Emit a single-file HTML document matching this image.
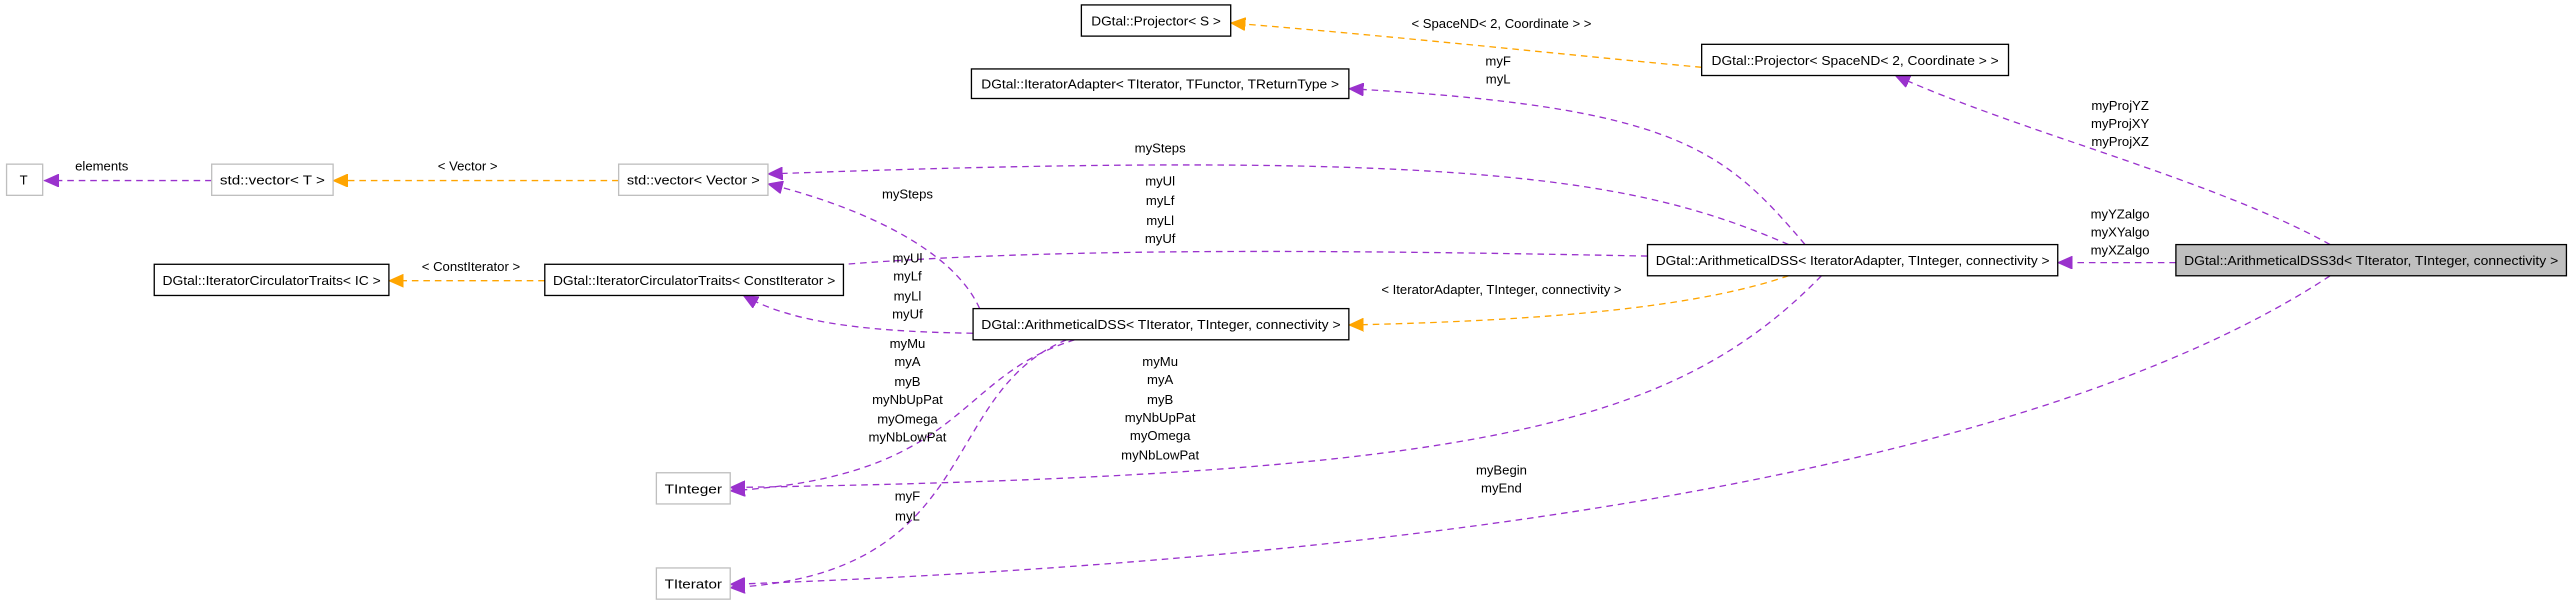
<!DOCTYPE html>
<html><head><meta charset="utf-8"><style>
html,body{margin:0;padding:0;background:#fff;}
svg{display:block;}
text{font-family:"Liberation Sans",Arial,sans-serif;font-size:8px;fill:#000;}
.n text{text-anchor:start;}
.l{text-anchor:middle;}
.p{fill:none;stroke:#9a32cd;stroke-width:0.8;stroke-dasharray:4,3;}
.o{fill:none;stroke:#ffa500;stroke-width:0.8;stroke-dasharray:4,3;}
.ap{fill:#9a32cd;stroke:#9a32cd;stroke-width:0.5;}
.ao{fill:#ffa500;stroke:#ffa500;stroke-width:0.5;}
.bk{fill:#fff;stroke:#000;stroke-width:0.8;}
.gr{fill:#fff;stroke:#bfbfbf;stroke-width:0.8;}
</style></head><body>
<svg width="2573" height="609" viewBox="0 0 1568 371" preserveAspectRatio="none" xmlns="http://www.w3.org/2000/svg">
<defs>
<marker id="mp" markerWidth="10" markerHeight="8" refX="9" refY="4" orient="auto" markerUnits="userSpaceOnUse"><path d="M0,0 L9,4 L0,8 z" class="ap"/></marker>
<marker id="mo" markerWidth="10" markerHeight="8" refX="9" refY="4" orient="auto" markerUnits="userSpaceOnUse"><path d="M0,0 L9,4 L0,8 z" class="ao"/></marker>
</defs>

<!-- edges -->
<path class="p" marker-end="url(#mp)" d="M129,110 L27,110"/>
<text class="l" x="62" y="104">elements</text>
<path class="o" marker-end="url(#mo)" d="M377,110 L203,110"/>
<text class="l" x="285" y="104">&lt; Vector &gt;</text>
<path class="o" marker-end="url(#mo)" d="M332,171 L237,171"/>
<text class="l" x="287" y="165">&lt; ConstIterator &gt;</text>
<path class="o" marker-end="url(#mo)" d="M1037,41 C950,33 850,22 750,14"/>
<text class="l" x="915" y="17">&lt; SpaceND&lt; 2, Coordinate &gt; &gt;</text>
<path class="o" marker-end="url(#mo)" d="M1090,168 C1040,185 960,195 822,198"/>
<text class="l" x="915" y="179">&lt; IteratorAdapter, TInteger, connectivity &gt;</text>

<path class="p" marker-end="url(#mp)" d="M1326,160 L1254,160"/>
<text class="l" x="1292" y="133">myYZalgo</text>
<text class="l" x="1292" y="144">myXYalgo</text>
<text class="l" x="1292" y="155">myXZalgo</text>
<path class="p" marker-end="url(#mp)" d="M1420,149 C1350,110 1230,80 1155,46"/>
<text class="l" x="1292" y="67">myProjYZ</text>
<text class="l" x="1292" y="78">myProjXY</text>
<text class="l" x="1292" y="89">myProjXZ</text>
<path class="p" marker-end="url(#mp)" d="M1420,168 C1250,280 900,340 445,356"/>
<text class="l" x="915" y="289">myBegin</text>
<text class="l" x="915" y="300">myEnd</text>

<path class="p" marker-end="url(#mp)" d="M1100,149 C1050,90 1020,65 822,54"/>
<text class="l" x="913" y="40">myF</text>
<text class="l" x="913" y="51">myL</text>
<path class="p" marker-end="url(#mp)" d="M1090,149 C1000,110 900,90 468,106"/>
<text class="l" x="707" y="93">mySteps</text>
<path class="p" marker-end="url(#mp)" d="M1004,156 C800,152 600,150 463,166"/>
<text class="l" x="707" y="113">myUl</text>
<text class="l" x="707" y="125">myLf</text>
<text class="l" x="707" y="137">myLl</text>
<text class="l" x="707" y="148">myUf</text>
<path class="p" marker-end="url(#mp)" d="M1110,168 C1020,260 900,290 445,297"/>
<text class="l" x="707" y="223">myMu</text>
<text class="l" x="707" y="234">myA</text>
<text class="l" x="707" y="246">myB</text>
<text class="l" x="707" y="257">myNbUpPat</text>
<text class="l" x="707" y="268">myOmega</text>
<text class="l" x="707" y="280">myNbLowPat</text>

<path class="p" marker-end="url(#mp)" d="M597,188 C580,150 520,125 468,112"/>
<text class="l" x="553" y="121">mySteps</text>
<path class="p" marker-end="url(#mp)" d="M593,203 C520,202 480,195 453,180"/>
<text class="l" x="553" y="160">myUl</text>
<text class="l" x="553" y="171">myLf</text>
<text class="l" x="553" y="183">myLl</text>
<text class="l" x="553" y="194">myUf</text>
<path class="p" marker-end="url(#mp)" d="M655,207 C580,230 590,290 445,299"/>
<text class="l" x="553" y="212">myMu</text>
<text class="l" x="553" y="223">myA</text>
<text class="l" x="553" y="235">myB</text>
<text class="l" x="553" y="246">myNbUpPat</text>
<text class="l" x="553" y="258">myOmega</text>
<text class="l" x="553" y="269">myNbLowPat</text>
<path class="p" marker-end="url(#mp)" d="M650,207 C570,240 600,350 445,358"/>
<text class="l" x="553" y="305">myF</text>
<text class="l" x="553" y="317">myL</text>

<!-- nodes -->
<g class="n">
<rect class="bk" x="659" y="3" width="91" height="19"/>
<text x="665" y="15.5" textLength="79" lengthAdjust="spacingAndGlyphs">DGtal::Projector&lt; S &gt;</text>
<rect class="bk" x="1037" y="27" width="187" height="19"/>
<text x="1043" y="39.5" textLength="175" lengthAdjust="spacingAndGlyphs">DGtal::Projector&lt; SpaceND&lt; 2, Coordinate &gt; &gt;</text>
<rect class="bk" x="592" y="42" width="230" height="18"/>
<text x="598" y="54" textLength="218" lengthAdjust="spacingAndGlyphs">DGtal::IteratorAdapter&lt; TIterator, TFunctor, TReturnType &gt;</text>
<rect class="gr" x="4" y="100" width="22" height="19"/>
<text x="12" y="112.5">T</text>
<rect class="gr" x="129" y="100" width="74" height="19"/>
<text x="134" y="112.5" textLength="64" lengthAdjust="spacingAndGlyphs">std::vector&lt; T &gt;</text>
<rect class="gr" x="377" y="100" width="91" height="19"/>
<text x="382" y="112.5" textLength="81" lengthAdjust="spacingAndGlyphs">std::vector&lt; Vector &gt;</text>
<rect class="bk" x="94" y="161" width="143" height="19"/>
<text x="99" y="173.5" textLength="133" lengthAdjust="spacingAndGlyphs">DGtal::IteratorCirculatorTraits&lt; IC &gt;</text>
<rect class="bk" x="332" y="161" width="182" height="19"/>
<text x="337" y="173.5" textLength="172" lengthAdjust="spacingAndGlyphs">DGtal::IteratorCirculatorTraits&lt; ConstIterator &gt;</text>
<rect class="bk" x="593" y="188" width="229" height="19"/>
<text x="598" y="200.5" textLength="219" lengthAdjust="spacingAndGlyphs">DGtal::ArithmeticalDSS&lt; TIterator, TInteger, connectivity &gt;</text>
<rect class="bk" x="1004" y="149" width="250" height="19"/>
<text x="1009" y="161.5" textLength="240" lengthAdjust="spacingAndGlyphs">DGtal::ArithmeticalDSS&lt; IteratorAdapter, TInteger, connectivity &gt;</text>
<rect x="1326" y="149" width="238" height="19" fill="#bfbfbf" stroke="#000" stroke-width="0.8"/>
<text x="1331" y="161.5" textLength="228" lengthAdjust="spacingAndGlyphs">DGtal::ArithmeticalDSS3d&lt; TIterator, TInteger, connectivity &gt;</text>
<rect class="gr" x="400" y="288" width="45" height="19"/>
<text x="405" y="300.5" textLength="35" lengthAdjust="spacingAndGlyphs">TInteger</text>
<rect class="gr" x="400" y="346" width="45" height="19"/>
<text x="405" y="358.5" textLength="35" lengthAdjust="spacingAndGlyphs">TIterator</text>
</g>
</svg>
</body></html>
